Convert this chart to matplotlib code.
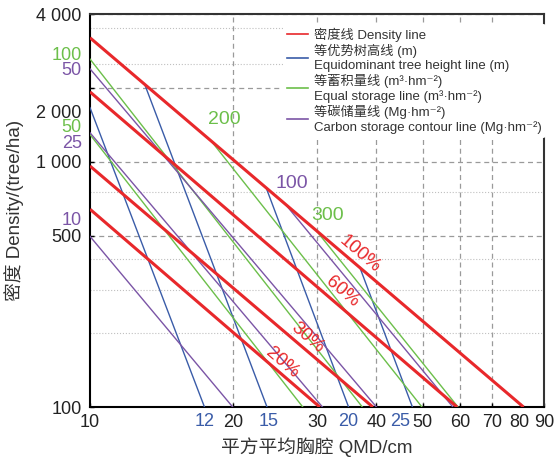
import numpy as np
import matplotlib
matplotlib.use("Agg")
import matplotlib.pyplot as plt
from matplotlib.lines import Line2D

plt.rcParams['font.family'] = ['Liberation Sans', 'Noto Sans CJK SC', 'DejaVu Sans']

RED = '#e8282b'
BLUE = '#3a5ca8'
GREEN = '#6cbf4a'
PURPLE = '#7b55a6'

# density lines: N at QMD=10, QMD at N=100
density_pct = ['100%', '60%', '30%', '20%']
density_n_at_10 = [3200, 1925, 960, 640]
density_qmd_at_100 = [81.5, 59.1, 39.3, 30.4]
density_label_qmd = [36.9, 33.9, 28.6, 25.4]
density_label_n = [419, 294, 191, 152]

# contour lines: start point (qmd, n), end qmd at N=100
height_vals = [12, 15, 20, 25]
height_start_qmd = [10, 13.05, 23.5, 36.9]
height_start_n = [1660, 2050, 775, 371]
height_end_qmd = [17.4, 23.55, 34.95, 47.6]
height_label_qmd = [17.4, 23.7, 34.8, 44.8]

volume_vals = [50, 100, 200, 300]
volume_start_qmd = [10, 10, 17.96, 30.0]
volume_start_n = [1290, 2620, 1217, 519]
volume_end_qmd = [28.0, 37.35, 49.85, 59.35]

carbon_vals = [10, 25, 50, 100]
carbon_start_qmd = [10, 10, 10, 25.9]
carbon_start_n = [496, 1312, 2390, 661]
carbon_end_qmd = [19.95, 30.8, 40.0, 57.9]

# labels on the left of the axis
left_labels = ['100', '50', '50', '25', '10']
left_label_n = [2722, 2344, 1375, 1184, 576]
left_label_col = [GREEN, PURPLE, GREEN, PURPLE, PURPLE]

# labels inside the plot
inner_labels = ['200', '300', '100']
inner_label_qmd = [19.2, 31.6, 26.6]
inner_label_n = [1481, 603, 814]
inner_label_col = [GREEN, GREEN, PURPLE]

x_ticks = [10, 20, 30, 40, 50, 60, 70, 80, 90]
y_ticks = [100, 500, 1000, 2000, 4000]
y_ticklabels = ['100', '500', '1 000', '', '4 000']
grid_x = [20, 30, 40, 50, 60, 70]
grid_y_minor = [200, 300, 400, 750, 2500, 3500]

fig = plt.figure(figsize=(5.54, 4.61), dpi=100)
ax = fig.add_axes([0.1625, 0.1171, 0.8195, 0.8525])
ax.set_xscale('log')
ax.set_yscale('log')
ax.set_xlim(10, 90)
ax.set_ylim(100, 4000)

# grid
for gx in grid_x:
    ax.axvline(gx, color='#9a9a9a', lw=0.9, ls=(0, (4, 3)), zorder=0)
ax.set_yticks(y_ticks)
ax.set_yticklabels(y_ticklabels)
ax.set_yticks(grid_y_minor, minor=True)
ax.set_yticklabels([], minor=True)
ax.grid(axis='y', which='major', color='#9a9a9a', lw=0.9, ls=(0, (4, 3)))
ax.grid(axis='y', which='minor', color='#c0c0c0', lw=0.8, ls=':')
ax.set_axisbelow(True)
ax.set_xticks(x_ticks)
ax.set_xticklabels([str(v) for v in x_ticks])
ax.xaxis.set_minor_locator(matplotlib.ticker.NullLocator())
ax.tick_params(which='major', direction='in', length=3, width=1, labelsize=13,
               labelcolor='#222', pad=5)
ax.tick_params(axis='y', pad=6)
ax.tick_params(which='minor', length=0)

for s in ax.spines.values():
    s.set_linewidth(1.5)
    s.set_color('#333')
ax.spines['left'].set_color('black')
ax.spines['bottom'].set_color('black')

# contour lines
for sx, sy, ex in zip(height_start_qmd, height_start_n, height_end_qmd):
    ax.plot([sx, ex], [sy, 100], color=BLUE, lw=1.0, zorder=3)
for sx, sy, ex in zip(volume_start_qmd, volume_start_n, volume_end_qmd):
    ax.plot([sx, ex], [sy, 100], color=GREEN, lw=1.0, zorder=3)
for sx, sy, ex in zip(carbon_start_qmd, carbon_start_n, carbon_end_qmd):
    ax.plot([sx, ex], [sy, 100], color=PURPLE, lw=1.0, zorder=3)

# density lines
for n0, d1 in zip(density_n_at_10, density_qmd_at_100):
    ax.plot([10, d1], [n0, 100], color=RED, lw=2.2, zorder=4, solid_capstyle='butt')

p0 = ax.transData.transform((10, density_n_at_10[0]))
p1 = ax.transData.transform((density_qmd_at_100[0], 100))
angle = np.degrees(np.arctan2(p1[1] - p0[1], p1[0] - p0[0]))
for lab, lx, ly in zip(density_pct, density_label_qmd, density_label_n):
    ax.text(lx, ly, lab, color=RED, fontsize=13.5, rotation=angle,
            ha='center', va='center', rotation_mode='anchor', zorder=5)

for lab, lx, ly, c in zip(inner_labels, inner_label_qmd, inner_label_n, inner_label_col):
    ax.text(lx, ly, lab, color=c, fontsize=14, ha='center', va='center', zorder=5)

ytr = ax.get_yaxis_transform()
for lab, ly, c in zip(left_labels, left_label_n, left_label_col):
    ax.text(-0.018, ly, lab, color=c, fontsize=13, ha='right', va='center',
            transform=ytr, clip_on=False)
ax.text(-0.018, 1567, '2 000', color='#222', fontsize=13, ha='right', va='center',
        transform=ytr, clip_on=False)

xtr = ax.get_xaxis_transform()
for v, lx in zip(height_vals, height_label_qmd):
    ax.text(lx, -0.037, str(v), color=BLUE, fontsize=13, ha='center', va='center',
            transform=xtr, clip_on=False)

ax.set_xlabel('平方平均胸腔 QMD/cm', fontsize=13.5, color='#333')
ax.xaxis.set_label_coords(0.5, -0.078)
ax.set_ylabel('密度 Density/(tree/ha)', fontsize=13.5, color='#333')
ax.yaxis.set_label_coords(-0.145, 0.5)

handles = [Line2D([], [], color=RED, lw=1.2),
           Line2D([], [], color=BLUE, lw=1.2),
           Line2D([], [], color=GREEN, lw=1.2),
           Line2D([], [], color=PURPLE, lw=1.2)]
labels = ['密度线 Density line',
          '等优势树高线 (m)\nEquidominant tree height line (m)',
          '等蓄积量线 (m³·hm⁻²)\nEqual storage line (m³·hm⁻²)',
          '等碳储量线 (Mg·hm⁻²)\nCarbon storage contour line (Mg·hm⁻²)']
leg = ax.legend(handles, labels, loc='upper left', bbox_to_anchor=(0.425, 0.975),
                fontsize=9.5, frameon=True, facecolor='white', edgecolor='none',
                framealpha=1, handlelength=1.6, handletextpad=0.45,
                labelspacing=0.15, borderpad=0.3, borderaxespad=0.0)
for t in leg.get_texts():
    t.set_color('#333')
leg.set_zorder(6)

fig.savefig('out.png', dpi=100)
